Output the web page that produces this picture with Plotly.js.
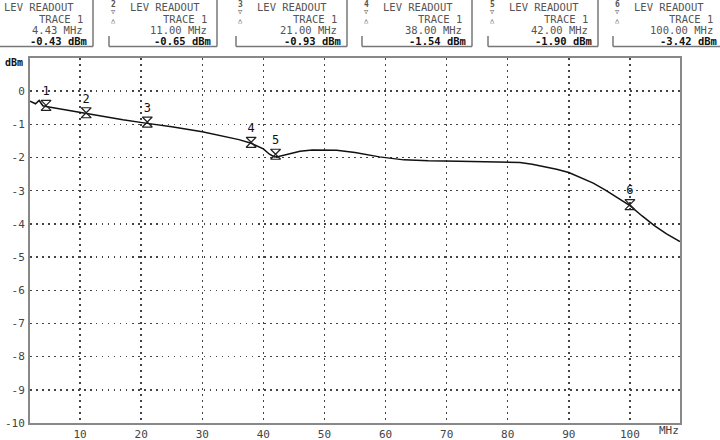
<!DOCTYPE html>
<html>
<head>
<meta charset="utf-8">
<script src="https://cdn.plot.ly/plotly-3.0.1.min.js"></script>
<style>html,body{margin:0;padding:0;background:#fff;}#chart{width:720px;height:440px;}</style>
</head>
<body>
<div id="chart"></div>
<script>
// ---- data ----
const freqMHz = [1.8, 2.7, 3.3, 3.9, 4.43, 6, 8, 11, 14, 17, 21, 25, 30, 34, 36, 38, 39, 40, 41, 41.8, 42.5, 43.5, 46, 48, 52, 55, 59, 63, 67, 72, 76, 80, 82, 84, 86, 88, 90, 92, 94, 96, 98, 100, 102, 104, 106, 108.2];
const levelDbm = [-0.30, -0.38, -0.28, -0.44, -0.46, -0.51, -0.58, -0.68, -0.77, -0.86, -0.97, -1.07, -1.22, -1.37, -1.46, -1.57, -1.65, -1.74, -1.90, -1.98, -1.97, -1.92, -1.81, -1.77, -1.78, -1.85, -1.98, -2.07, -2.10, -2.11, -2.12, -2.13, -2.15, -2.20, -2.27, -2.35, -2.45, -2.60, -2.77, -2.98, -3.22, -3.45, -3.76, -4.05, -4.30, -4.53];

const markerNumbers = ["1", "2", "3", "4", "5", "6"];
const markerFreq = [4.43, 11.00, 21.00, 38.00, 42.00, 100.00];
const markerLevel = [-0.43, -0.65, -0.93, -1.54, -1.90, -3.42];

const xTickVals = [10, 20, 30, 40, 50, 60, 70, 80, 90, 100];
const xTickText = ["10", "20", "30", "40", "50", "60", "70", "80", "90", "100"];
const yTickVals = [0, -1, -2, -3, -4, -5, -6, -7, -8, -9, -10];
const yTickText = ["0", "-1", "-2", "-3", "-4", "-5", "-6", "-7", "-8", "-9", "-10"];

const readoutTitle = "LEV READOUT";
const readoutTrace = "TRACE 1";
const xUnit = "MHz";
const yUnit = "dBm";

// ---- layout helpers (pixel -> paper) ----
const ML = 30, MR = 40, MT = 58, MB = 17, W = 720, H = 440;
const PW = W - ML - MR, PH = H - MT - MB;
const px = p => (p - ML) / PW;
const py = p => (H - MB - p) / PH;

const MONO = "DejaVu Sans Mono, Liberation Mono, monospace";

const boxLeft = [-17, 109, 236, 362, 488, 613];
const boxRight = [93, 217, 347, 472, 598, 723];
const boxBottom = 46.5;

const shapes = [];
const annotations = [];
const boxLine = {color: "#777", width: 1.5};

markerNumbers.forEach((num, i) => {
  const L = boxLeft[i], R = boxRight[i];
  shapes.push({type: "line", xref: "paper", yref: "paper", x0: px(L), x1: px(R), y0: py(boxBottom), y1: py(boxBottom), line: boxLine});
  shapes.push({type: "line", xref: "paper", yref: "paper", x0: px(R), x1: px(R), y0: py(-2), y1: py(boxBottom), line: boxLine});
  shapes.push({type: "line", xref: "paper", yref: "paper", x0: px(L), x1: px(L), y0: py(36), y1: py(boxBottom), line: boxLine});

  const lines = [
    {t: readoutTitle, x: L + 20, y: 7.2, anchor: "left", color: "#555", bold: false},
    {t: readoutTrace, x: R - 9, y: 18.5, anchor: "right", color: "#555", bold: false},
    {t: markerFreq[i].toFixed(2) + " " + xUnit, x: R - 9, y: 29.8, anchor: "right", color: "#555", bold: false},
    {t: markerLevel[i].toFixed(2) + " " + yUnit, x: R - 5, y: 41.1, anchor: "right", color: "#111", bold: true}
  ];
  lines.forEach(l => {
    annotations.push({
      xref: "paper", yref: "paper", x: px(l.x), y: py(l.y), xanchor: l.anchor, yanchor: "middle",
      text: l.bold ? "<b>" + l.t + "</b>" : l.t, showarrow: false, borderpad: 0,
      font: {family: MONO, size: 10.5, color: l.color}
    });
  });
  if (i > 0) {
    const sx = L + 4.5;
    annotations.push({xref: "paper", yref: "paper", x: px(sx), y: py(4.8), xanchor: "center", yanchor: "middle", text: "<b>" + num + "</b>", showarrow: false, borderpad: 0, font: {family: MONO, size: 8, color: "#555"}});
    annotations.push({xref: "paper", yref: "paper", x: px(sx), y: py(12.5), xanchor: "center", yanchor: "middle", text: "▽", showarrow: false, borderpad: 0, font: {family: MONO, size: 7, color: "#555"}});
    annotations.push({xref: "paper", yref: "paper", x: px(sx), y: py(20.5), xanchor: "center", yanchor: "middle", text: "△", showarrow: false, borderpad: 0, font: {family: MONO, size: 7, color: "#555"}});
  }
});

annotations.push({xref: "paper", yref: "paper", x: px(14), y: py(62.5), xanchor: "center", yanchor: "middle", text: "<b>" + yUnit + "</b>", showarrow: false, borderpad: 0, font: {family: MONO, size: 10, color: "#111"}});
annotations.push({xref: "paper", yref: "paper", x: px(669), y: py(431), xanchor: "center", yanchor: "middle", text: xUnit, showarrow: false, borderpad: 0, font: {family: MONO, size: 11, color: "#444"}});

const traces = [
  {
    x: freqMHz, y: levelDbm, type: "scatter", mode: "lines",
    line: {color: "#111", width: 1.5, shape: "linear"}, hoverinfo: "skip", showlegend: false
  },
  {
    x: markerFreq, y: markerLevel, type: "scatter", mode: "markers+text",
    text: markerNumbers, textposition: "top center",
    textfont: {family: MONO, size: 12, color: "#111"},
    marker: {symbol: "hourglass-open", size: 10, color: "#222", line: {width: 1.2, color: "#222"}},
    hoverinfo: "skip", showlegend: false
  }
];

const axisCommon = {
  showgrid: true, gridcolor: "#444", gridwidth: 1.5, griddash: "1.5px,4.5px",
  showline: true, mirror: true, linecolor: "#888", linewidth: 2,
  zeroline: false, ticks: "", tickfont: {family: MONO, size: 11, color: "#444"}
};

const layout = {
  width: W, height: H,
  margin: {l: ML, r: MR, t: MT, b: MB, pad: 0},
  paper_bgcolor: "#fff", plot_bgcolor: "#fff",
  xaxis: Object.assign({}, axisCommon, {range: [1.8, 108.2], tickmode: "array", tickvals: xTickVals, ticktext: xTickText, ticklabelstandoff: 0}),
  yaxis: Object.assign({}, axisCommon, {range: [-10, 1], tickmode: "array", tickvals: yTickVals, ticktext: yTickText, ticklabelstandoff: 1}),
  shapes: shapes,
  annotations: annotations,
  showlegend: false
};

Plotly.newPlot("chart", traces, layout, {staticPlot: true, displayModeBar: false});
</script>
</body>
</html>
